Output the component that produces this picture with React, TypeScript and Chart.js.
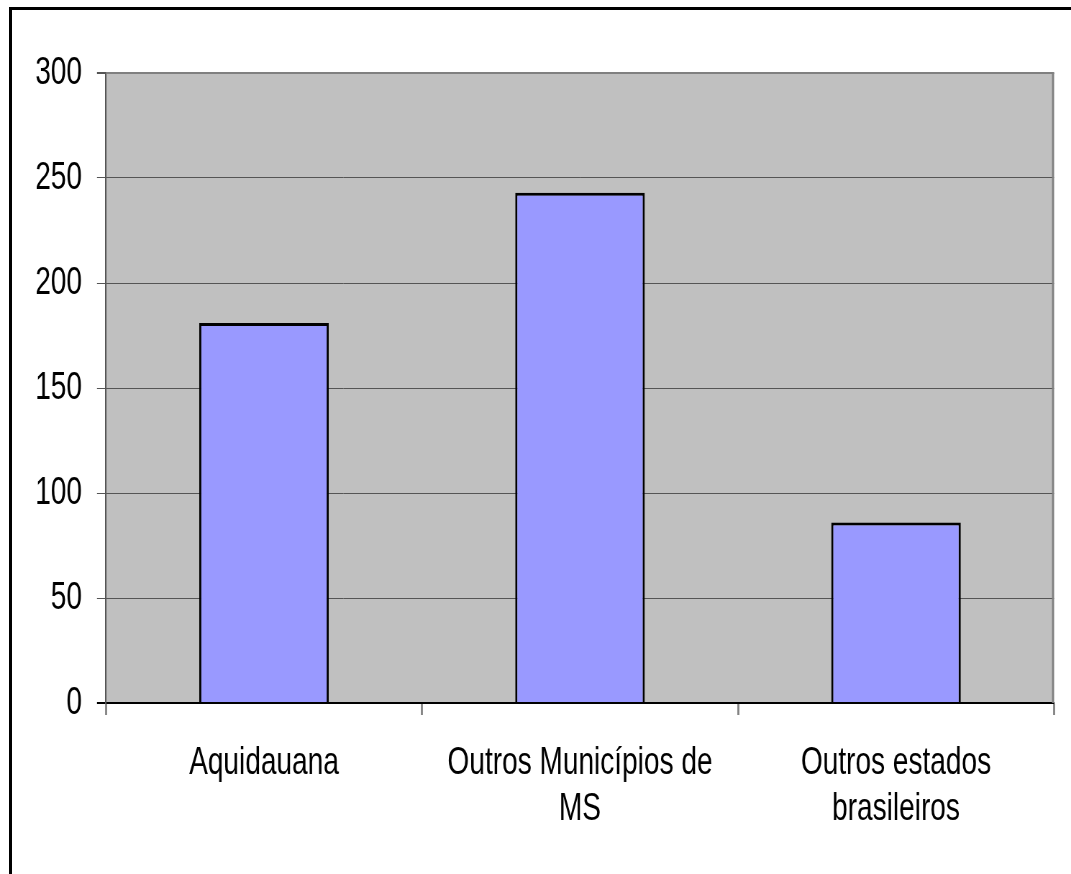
import React, { useEffect, useRef } from "react";
import { Chart, registerables } from "chart.js";

Chart.register(...registerables);

const categories: (string | string[])[] = [
  "Aquidauana",
  ["Outros Municípios de", "MS"],
  ["Outros estados", "brasileiros"],
];
const values: number[] = [181, 243, 86];
const yTicks: number[] = [0, 50, 100, 150, 200, 250, 300];

const FONT = '"Liberation Sans", Arial, sans-serif';

// The reference draws a horizontally condensed face; the canvas is rendered wider
// and shown at the page width, which condenses everything horizontally.
const VIEW_W = 1071;
const VIEW_H = 874;
const SX = 1.39;
const CANVAS_W = Math.round(VIEW_W * SX);

const plotBg = {
  id: "plotBg",
  beforeDraw(chart: any) {
    const { ctx, chartArea } = chart;
    ctx.save();
    ctx.fillStyle = "#C0C0C0";
    ctx.fillRect(chartArea.left, chartArea.top, chartArea.right - chartArea.left, chartArea.bottom - chartArea.top);
    ctx.restore();
  },
  afterDatasetsDraw(chart: any) {
    const { ctx, chartArea } = chart;
    ctx.save();
    ctx.strokeStyle = "#808080";
    ctx.lineWidth = 2;
    ctx.beginPath();
    ctx.moveTo(chartArea.left, chartArea.top);
    ctx.lineTo(chartArea.right, chartArea.top);
    ctx.stroke();
    ctx.lineWidth = 2 * SX;
    ctx.beginPath();
    ctx.moveTo(chartArea.right - SX, chartArea.top);
    ctx.lineTo(chartArea.right - SX, chartArea.bottom);
    ctx.stroke();
    ctx.restore();
  },
};

export default function App() {
  const ref = useRef<HTMLCanvasElement | null>(null);
  useEffect(() => {
    if (!ref.current) return;
    const chart = new Chart(ref.current, {
      type: "bar",
      data: {
        labels: categories,
        datasets: [
          {
            data: values,
            backgroundColor: "#9999FF",
            borderColor: "#000000",
            borderWidth: 3,
            barPercentage: 0.41,
            categoryPercentage: 1,
          },
        ],
      },
      options: {
        responsive: false,
        animation: false,
        layout: { padding: { left: 0, top: 73, right: 17 * SX, bottom: 0 } },
        plugins: { legend: { display: false }, tooltip: { enabled: false } },
        scales: {
          x: {
            grid: {
              drawOnChartArea: false,
              drawTicks: true,
              tickLength: 12,
              tickColor: "#808080",
              tickWidth: 2 * SX,
            },
            border: { display: true, color: "#000000", width: 2 },
            ticks: {
              color: "#000000",
              padding: 25,
              maxRotation: 0,
              minRotation: 0,
              autoSkip: false,
              font: { family: FONT, size: 39, lineHeight: 1.18 },
            },
            afterFit: (s: any) => {
              s.height = 171;
            },
          },
          y: {
            min: 0,
            max: 300,
            afterBuildTicks: (s: any) => {
              s.ticks = yTicks.map((v) => ({ value: v }));
            },
            grid: {
              color: (c: any) => (c.tick && c.tick.value === 300 ? "#808080" : c.tick && c.tick.value === 0 ? "#000000" : "#555555"),
              lineWidth: (c: any) => (c.tick && (c.tick.value === 300 || c.tick.value === 0) ? 2 : 1),
              tickLength: 9 * SX,
              tickColor: (c: any) => (c.tick && c.tick.value === 0 ? "#000000" : "#555555"),
            },
            border: { display: true, color: "#555555", width: 1.5 * SX },
            ticks: {
              color: "#000000",
              padding: 15 * SX,
              font: { family: FONT, size: 39 },
            },
            afterFit: (s: any) => {
              s.width = 106 * SX;
            },
          },
        },
      },
      plugins: [plotBg],
    });
    return () => chart.destroy();
  }, []);

  return (
    <div style={{ position: "absolute", left: 0, top: 0, width: VIEW_W, height: VIEW_H, overflow: "hidden", background: "#ffffff" }}>
      <div
        style={{
          position: "absolute",
          left: 9,
          top: 7,
          width: 1200,
          height: 1000,
          border: "3px solid #000000",
          boxSizing: "border-box",
        }}
      />
      <canvas
        ref={ref}
        width={CANVAS_W}
        height={VIEW_H}
        style={{ position: "absolute", left: 0, top: 0, width: VIEW_W + "px", height: VIEW_H + "px" }}
      />
    </div>
  );
}
